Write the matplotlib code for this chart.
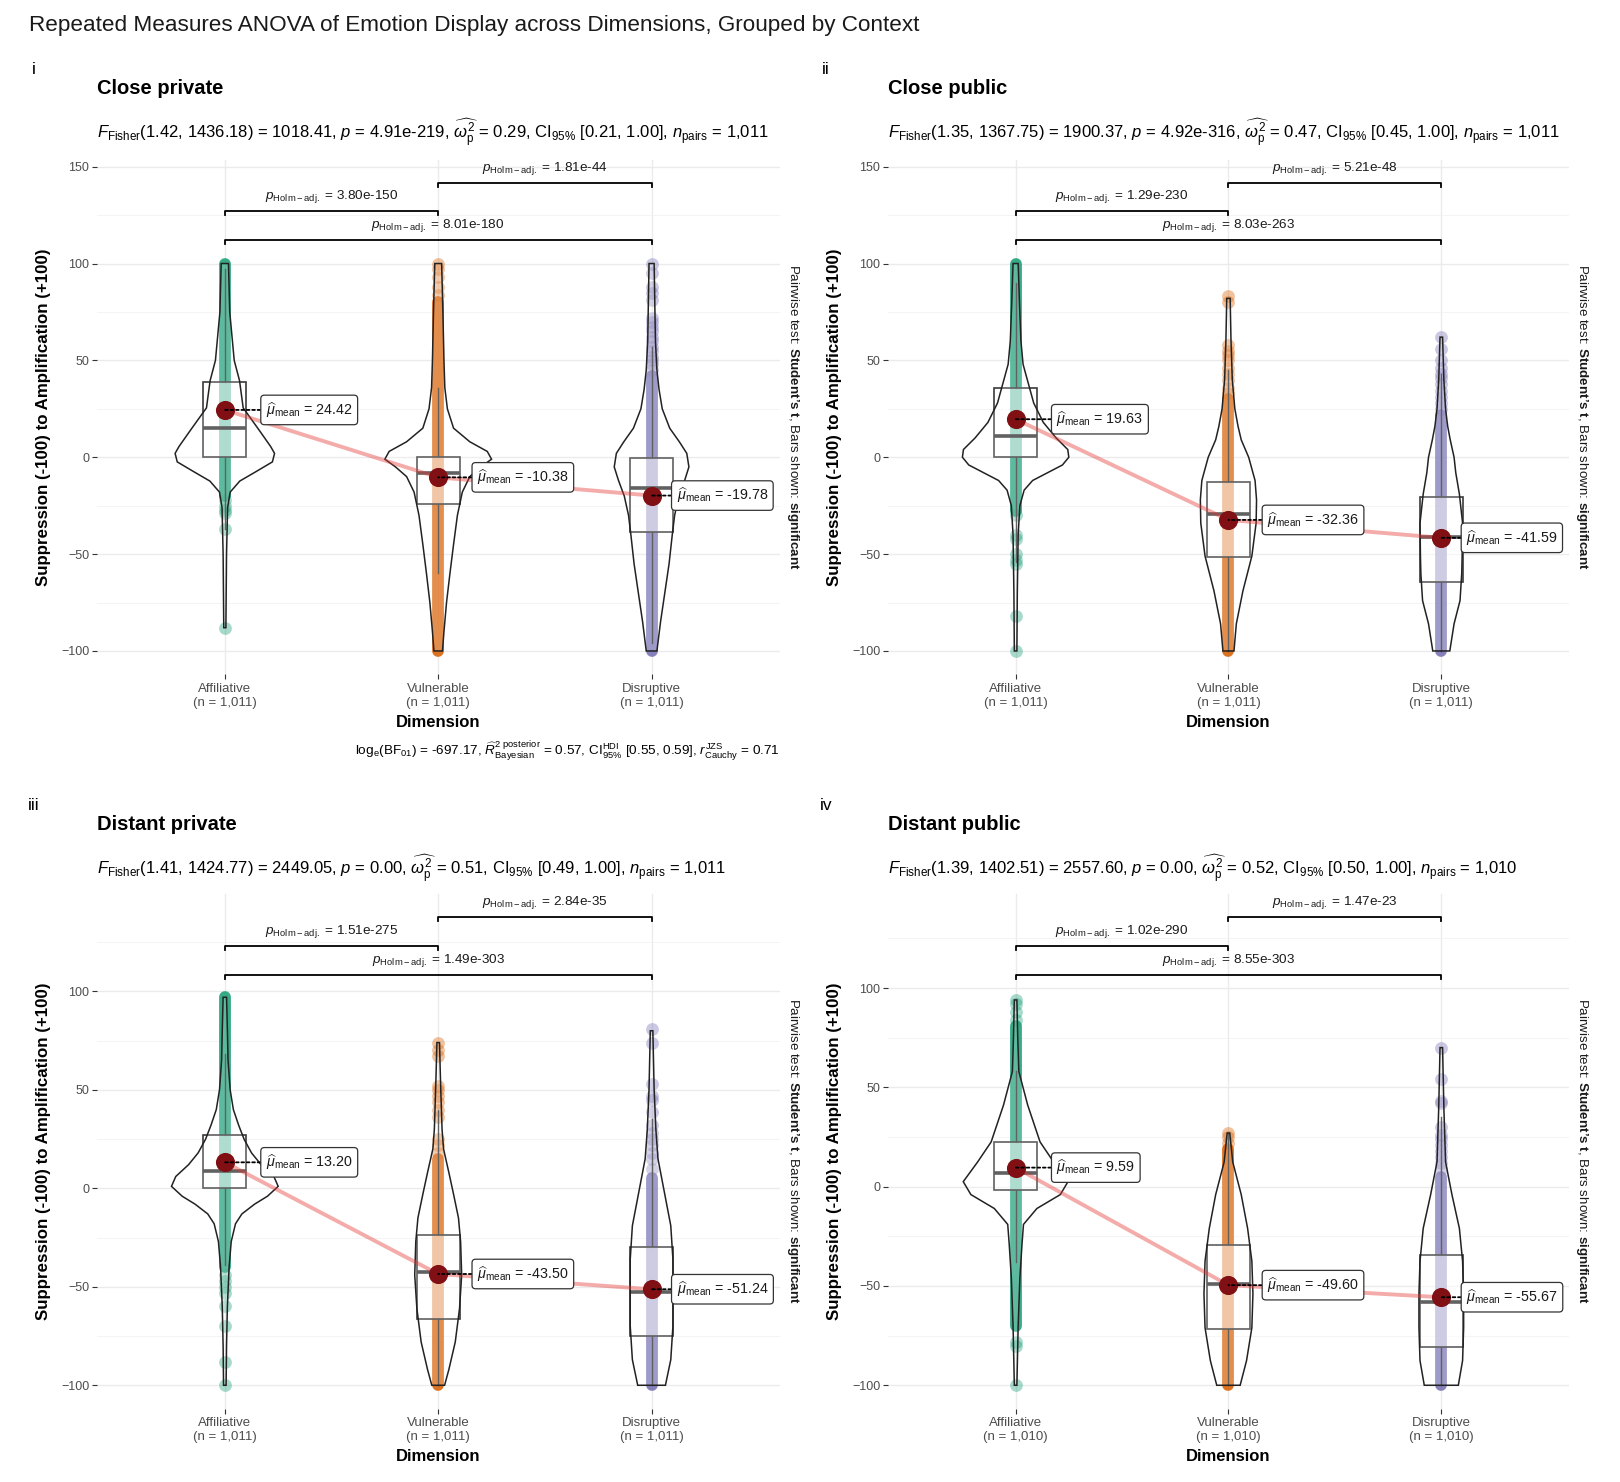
"""Repeated-measures ANOVA of emotion display, four contexts.

Rebuilds a 2x2 grid of within-subject panels (violin + box + points +
mean path + pairwise brackets) from values read off the original figure.
The raw scores are not available, so every violin is drawn from its read
outline and every point cloud from its dense range plus the stray points.

Run:
    python plot.py
"""

import matplotlib
matplotlib.use("Agg")
import matplotlib.pyplot as plt
from matplotlib.patches import Polygon, Rectangle
from matplotlib.ticker import MultipleLocator

# ---------------------------------------------------------------------------
# Data
# ---------------------------------------------------------------------------

DIMENSIONS = ["Affiliative", "Vulnerable", "Disruptive"]
CONTEXTS = ["Close private", "Close public", "Distant private", "Distant public"]
TAGS = ["i", "ii", "iii", "iv"]
N_OBS = ["1,011", "1,011", "1,011", "1,010"]

# omnibus test, one entry per context
F_DF1 = [1.42, 1.35, 1.41, 1.39]
F_DF2 = [1436.18, 1367.75, 1424.77, 1402.51]
F_STAT = [1018.41, 1900.37, 2449.05, 2557.60]
P_OMNIBUS = ["4.91e-219", "4.92e-316", "0.00", "0.00"]
OMEGA_SQ = [0.29, 0.47, 0.51, 0.52]
OMEGA_CI_LO = [0.21, 0.45, 0.49, 0.50]
OMEGA_CI_HI = [1.00, 1.00, 1.00, 1.00]

# Bayesian caption (first panel only)
LOG_BF01 = -697.17
R2_POSTERIOR = 0.57
R2_HDI = (0.55, 0.59)
R_CAUCHY = 0.71

# per context -> per dimension
MEANS = [
    [24.42, -10.38, -19.78],
    [19.63, -32.36, -41.59],
    [13.20, -43.50, -51.24],
    [9.59, -49.60, -55.67],
]
Q1 = [
    [0.0, -24.0, -38.5],
    [0.0, -51.7, -64.3],
    [0.0, -66.3, -75.2],
    [-1.8, -71.8, -80.6],
]
MEDIANS = [
    [15.0, -8.0, -16.0],
    [11.0, -29.5, -41.0],
    [8.8, -42.6, -52.7],
    [6.7, -49.2, -57.9],
]
Q3 = [
    [39.0, 0.0, -0.5],
    [36.0, -12.6, -20.3],
    [27.2, -23.7, -29.9],
    [22.5, -29.2, -34.2],
]
WHISKER_LO = [
    [-37, -60, -96],
    [-54, -100, -100],
    [-39, -100, -100],
    [-38, -100, -100],
]
WHISKER_HI = [
    [97, 36, 57],
    [90, 45, 43],
    [68, 40, 35],
    [58, 27, 35],
]

# pairwise comparisons (category numbers), Holm-adjusted p, bracket height
PAIRS = [(1, 2), (2, 3), (1, 3)]
P_PAIRWISE = [
    ["3.80e-150", "1.81e-44", "8.01e-180"],
    ["1.29e-230", "5.21e-48", "8.03e-263"],
    ["1.51e-275", "2.84e-35", "1.49e-303"],
    ["1.02e-290", "1.47e-23", "8.55e-303"],
]
BRACKET_Y = [
    [127.2, 141.6, 112.3],
    [127.2, 141.6, 112.3],
    [123.1, 137.8, 108.4],
    [121.3, 135.8, 106.7],
]

# raw points: the range where the 1,011 points overlap into a solid column,
# plus the stray points that stand apart from it
DENSE_LO = [
    [-20, -100, -100],
    [-28, -100, -100],
    [-40, -100, -100],
    [-70, -100, -100],
]
DENSE_HI = [
    [100, 80, 42],
    [100, 30, 22],
    [97, 15, 5],
    [81, 19, 5],
]
STRAY_POINTS = [
    [
        [-22, -25, -27, -29, -37, -88],
        [84, 88, 93, 97, 100],
        [45, 48, 50, 52, 55, 57, 60, 62, 65, 67, 70, 72, 81, 85, 88, 95, 100],
    ],
    [
        [-30, -40, -42, -50, -53, -55, -82, -100],
        [33, 36, 40, 43, 46, 50, 53, 55, 58, 80, 83],
        [25, 28, 31, 34, 38, 41, 43, 46, 50, 56, 62],
    ],
    [
        [-44, -47, -50, -53, -60, -70, -88, -100],
        [18, 22, 25, 36, 40, 44, 47, 50, 52, 67, 70, 74],
        [10, 15, 18, 22, 25, 28, 32, 39, 45, 47, 53, 74, 81],
    ],
    [
        [84, 88, 92, 94, -78, -80, -100],
        [22, 25, 27],
        [9, 12, 15, 18, 21, 24, 26, 30, 42, 43, 54, 70],
    ],
]

# violin outlines: score levels (top -> bottom) and half-widths in category units
VIOLIN_Y = [
    [
        [100, 75, 50, 39.5, 25.5, 13.5, 5.5, 2, -2.4, -7.3, -12.3, -18, -26, -50, -88],
        [100, 75, 50, 36, 25, 15, 8, 3, -1, -5, -10, -18, -30, -45, -60, -75, -90, -100],
        [100, 80, 60, 45, 35, 25, 15, 8, 2, -5, -12, -20, -30, -40, -55, -70, -85, -100],
    ],
    [
        [100, 80, 60, 48, 38, 28, 18, 10, 4, 0, -4, -8, -12, -17, -25, -40, -70, -100],
        [82, 60, 40, 25, 16, 9, 0, -12, -22, -34, -51, -69, -86, -100],
        [62, 40, 25, 16, 9, 0, -8, -19, -34, -51, -60, -74, -86, -100],
    ],
    [
        [97, 80, 65, 50, 40, 32, 25, 18, 12, 6, 1, -4, -8, -13, -18, -27, -40, -60, -80, -100],
        [74, 50, 30, 20, 8, -2, -15, -27, -44, -61, -78, -92, -100],
        [80, 50, 30, 15, -2, -19, -36, -53, -70, -87, -100],
    ],
    [
        [94, 75, 58, 41, 22.5, 12.5, 2.5, -4, -11, -19, -29, -46, -70, -100],
        [27, 12.5, -4, -21, -37.5, -54, -71, -87.6, -100],
        [70, 40, 12.5, -4, -21, -37.5, -54, -71, -87.6, -100],
    ],
]
VIOLIN_HW = [
    [
        [0.017, 0.023, 0.044, 0.069, 0.086, 0.164, 0.215, 0.233, 0.223, 0.148, 0.07, 0.025, 0.013, 0.008, 0.005],
        [0.016, 0.022, 0.027, 0.031, 0.043, 0.072, 0.148, 0.23, 0.25, 0.2, 0.148, 0.113, 0.09, 0.072, 0.055, 0.039, 0.027, 0.02],
        [0.012, 0.015, 0.018, 0.025, 0.035, 0.05, 0.085, 0.13, 0.165, 0.175, 0.155, 0.128, 0.108, 0.097, 0.082, 0.062, 0.042, 0.025],
    ],
    [
        [0.012, 0.018, 0.025, 0.035, 0.06, 0.085, 0.13, 0.19, 0.245, 0.25, 0.22, 0.15, 0.08, 0.04, 0.02, 0.012, 0.008, 0.006],
        [0.008, 0.012, 0.018, 0.03, 0.045, 0.06, 0.095, 0.125, 0.132, 0.13, 0.11, 0.068, 0.037, 0.026],
        [0.006, 0.012, 0.02, 0.03, 0.042, 0.06, 0.068, 0.085, 0.1, 0.098, 0.096, 0.088, 0.06, 0.04],
    ],
    [
        [0.008, 0.012, 0.015, 0.025, 0.04, 0.065, 0.09, 0.125, 0.17, 0.23, 0.25, 0.2, 0.14, 0.08, 0.05, 0.03, 0.02, 0.012, 0.008, 0.006],
        [0.006, 0.012, 0.018, 0.025, 0.05, 0.07, 0.095, 0.105, 0.11, 0.1, 0.08, 0.05, 0.03],
        [0.006, 0.012, 0.02, 0.03, 0.06, 0.09, 0.1, 0.1, 0.1, 0.09, 0.065],
    ],
    [
        [0.006, 0.01, 0.015, 0.057, 0.115, 0.178, 0.246, 0.21, 0.1, 0.037, 0.03, 0.02, 0.012, 0.006],
        [0.006, 0.02, 0.06, 0.09, 0.11, 0.115, 0.11, 0.085, 0.055],
        [0.006, 0.012, 0.02, 0.05, 0.085, 0.1, 0.105, 0.105, 0.1, 0.08],
    ],
]

# ---------------------------------------------------------------------------
# Layout and style
# ---------------------------------------------------------------------------

FIG_W, FIG_H = 1620, 1482
COLORS = ["#1B9E77", "#D95F02", "#7570B3"]
MEAN_COLOR = "#801014"
BOX_EDGE = "#3A3A3A"
TICK_GRAY = "#4D4D4D"

# panel rectangles in pixels: left, top, right, bottom
PANEL_PX = [
    (96.8, 159.5, 779.6, 674.4),
    (887.9, 159.5, 1569.0, 674.4),
    (96.8, 893.5, 779.6, 1408.7),
    (887.9, 893.5, 1569.0, 1408.7),
]
Y_LIMITS = [(-112.1, 153.7), (-112.1, 153.7), (-111.9, 149.7), (-111.8, 147.6)]
TITLE_Y = [88, 88, 824.5, 824.5]
SUBTITLE_Y = [132.5, 132.5, 869, 869]
LABEL_DX = [0.17, 0.16, 0.095]  # left edge of mean label box, from category

plt.rcParams.update(
    {
        "font.family": ["Liberation Sans", "DejaVu Sans"],
        "mathtext.fontset": "custom",
        "mathtext.rm": "Liberation Sans",
        "mathtext.it": "Liberation Sans:italic",
        "mathtext.bf": "Liberation Sans:bold",
        "mathtext.sf": "Liberation Sans",
        "figure.dpi": 100,
        "savefig.dpi": 100,
    }
)


def fx(px):
    return px / FIG_W


def fy(py):
    return 1 - py / FIG_H


# ---------------------------------------------------------------------------
# Drawing
# ---------------------------------------------------------------------------


def subtitle(k):
    return (
        r"$F_{\mathrm{Fisher}}$" + f"({F_DF1[k]:.2f}, {F_DF2[k]:.2f}) = {F_STAT[k]:.2f}, "
        + r"$p$" + f" = {P_OMNIBUS[k]}, "
        + r"$\widehat{\omega_{\mathrm{p}}^{2}}$" + f" = {OMEGA_SQ[k]:.2f}, "
        + r"CI$_{95\%}$" + f" [{OMEGA_CI_LO[k]:.2f}, {OMEGA_CI_HI[k]:.2f}], "
        + r"$n_{\mathrm{pairs}}$" + f" = {N_OBS[k]}"
    )


def draw_panel(fig, k):
    left, top, right, bottom = PANEL_PX[k]
    ax = fig.add_axes([fx(left), fy(bottom), fx(right - left), (bottom - top) / FIG_H])
    ax.set_xlim(0.4, 3.6)
    ax.set_ylim(*Y_LIMITS[k])

    for s in ax.spines.values():
        s.set_visible(False)
    ax.set_yticks([t for t in (-100, -50, 0, 50, 100, 150) if t < Y_LIMITS[k][1] - 1])
    ax.yaxis.set_minor_locator(MultipleLocator(25))
    ax.set_xticks([1, 2, 3])
    ax.set_xticklabels([f"{d}\n(n = {N_OBS[k]})" for d in DIMENSIONS], linespacing=1.25)
    ax.tick_params(axis="both", which="major", length=3.5, width=0.8, color="#333333",
                   labelcolor=TICK_GRAY, pad=2)
    ax.tick_params(axis="y", labelsize=9)
    ax.tick_params(axis="x", labelsize=9.5, pad=2.5)
    ax.tick_params(axis="y", which="minor", length=0)
    ax.grid(True, which="major", color="#EBEBEB", lw=1.0)
    ax.grid(True, which="minor", axis="y", color="#F2F2F2", lw=0.6)
    ax.set_axisbelow(True)

    ax.set_xlabel("Dimension", fontsize=12, fontweight="bold", labelpad=4)
    ax.set_ylabel("Suppression (-100) to Amplification (+100)", fontsize=12.2,
                  fontweight="bold", labelpad=7)

    for g in range(3):
        x = g + 1
        col = COLORS[g]

        # raw points
        ax.plot([x, x], [DENSE_LO[k][g], DENSE_HI[k][g]], color=col, lw=8.5, alpha=0.88,
                solid_capstyle="round", zorder=2)
        stray = STRAY_POINTS[k][g]
        ax.scatter([x] * len(stray), stray, s=85, color=col, alpha=0.38, lw=0, zorder=2)

        # box + whiskers
        ax.plot([x, x], [Q3[k][g], WHISKER_HI[k][g]], color=BOX_EDGE, lw=1.0, zorder=3)
        ax.plot([x, x], [Q1[k][g], WHISKER_LO[k][g]], color=BOX_EDGE, lw=1.0, zorder=3)
        ax.add_patch(Rectangle((x - 0.1, Q1[k][g]), 0.2, Q3[k][g] - Q1[k][g],
                               fc=(1, 1, 1, 0.5), ec=BOX_EDGE, lw=1.2, zorder=3))
        ax.plot([x - 0.1, x + 0.1], [MEDIANS[k][g]] * 2, color=BOX_EDGE, lw=2.6,
                solid_capstyle="butt", zorder=3)

        # violin outline
        ys = VIOLIN_Y[k][g]
        hw = VIOLIN_HW[k][g]
        xs = [x - w for w in hw] + [x + w for w in hw[::-1]]
        ax.add_patch(Polygon(list(zip(xs, ys + ys[::-1])), closed=True,
                             fc=(1, 1, 1, 0.2), ec="#222222", lw=1.1, zorder=4))

    # mean path and mean points
    ax.plot([1, 2, 3], MEANS[k], color="#E53935", alpha=0.42, lw=2.8, zorder=5,
            solid_capstyle="round")
    ax.scatter([1, 2, 3], MEANS[k], s=190, color=MEAN_COLOR, lw=0, zorder=6)

    for g in range(3):
        x = g + 1
        m = MEANS[k][g]
        ax.annotate(
            r"$\widehat{\mu}_{\mathrm{mean}}$" + f" = {m:.2f}",
            xy=(x, m), xytext=(x + LABEL_DX[g] + 0.022, m),
            ha="left", va="center", fontsize=10.3, color="#1A1A1A", zorder=8,
            bbox=dict(boxstyle="round,pad=0.35,rounding_size=0.25", fc="white",
                      ec="#333333", lw=0.9),
            arrowprops=dict(arrowstyle="-", ls=(0, (1.5, 1.5)), lw=1.3, color="black",
                            shrinkA=0, shrinkB=0),
        )

    # pairwise brackets
    for (a, b), p, yb in zip(PAIRS, P_PAIRWISE[k], BRACKET_Y[k]):
        ax.plot([a, a, b, b], [yb - 2.2, yb, yb, yb - 2.2], color="black", lw=1.3,
                zorder=5, clip_on=False)
        ax.text((a + b) / 2, yb + 7.3, r"$p_{\mathrm{Holm-adj.}}$" + f" = {p}",
                ha="center", va="center", fontsize=9.7, color="#1A1A1A")

    # panel texts
    fig.text(fx(left), fy(TITLE_Y[k]), CONTEXTS[k], fontsize=14.5, fontweight="bold",
             ha="left", va="center")
    fig.text(fx(left), fy(SUBTITLE_Y[k]), subtitle(k), fontsize=12, ha="left", va="center")
    fig.text(fx(right + 13), fy((top + bottom) / 2),
             "Pairwise test: $\\mathbf{Student\u2019s\\ t}$, Bars shown: $\\mathbf{significant}$",
             fontsize=9.6, rotation=270, ha="center", va="center", color="#1A1A1A")
    return ax


def main():
    fig = plt.figure(figsize=(FIG_W / 100, FIG_H / 100), dpi=100)

    fig.text(fx(29), fy(26),
             "Repeated Measures ANOVA of Emotion Display across Dimensions, Grouped by Context",
             fontsize=16.2, ha="left", va="center", color="#1A1A1A")

    for k in range(4):
        draw_panel(fig, k)

    for tag, (xp, yp) in zip(TAGS, [(34, 69), (826, 69), (34, 805), (826, 805)]):
        fig.text(fx(xp), fy(yp), tag, fontsize=12.5, ha="center", va="center")

    caption = (
        r"log$_{\mathrm{e}}$(BF$_{01}$)" + f" = {LOG_BF01:.2f}, "
        + r"$\widehat{R}^{2\ \mathrm{posterior}}_{\mathrm{Bayesian}}$" + f" = {R2_POSTERIOR:.2f}, "
        + r"CI$^{\mathrm{HDI}}_{95\%}$" + f" [{R2_HDI[0]:.2f}, {R2_HDI[1]:.2f}], "
        + r"$r^{\mathrm{JZS}}_{\mathrm{Cauchy}}$" + f" = {R_CAUCHY:.2f}"
    )
    fig.text(fx(779.6), fy(751), caption, fontsize=9.7, ha="right", va="center")

    fig.savefig("out.png", dpi=100, facecolor="white")
    plt.close(fig)


if __name__ == "__main__":
    main()
